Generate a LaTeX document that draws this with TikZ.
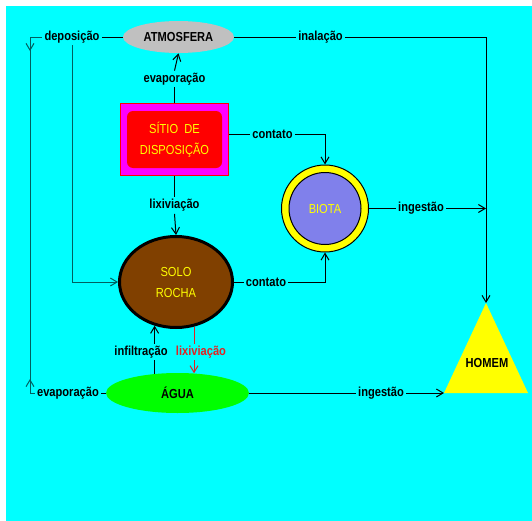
\documentclass[tikz,border=0pt]{standalone}
\usepackage{fontspec}
\setmainfont[FakeStretch=0.85]{Liberation Sans}
\usetikzlibrary{arrows.meta,shapes.geometric}
\definecolor{bgc}{RGB}{0,255,255}
\definecolor{atmgray}{RGB}{192,192,192}
\definecolor{sitmag}{RGB}{255,0,255}
\definecolor{sitred}{RGB}{255,0,0}
\definecolor{yel}{RGB}{255,255,0}
\definecolor{soilbrown}{RGB}{128,64,0}
\definecolor{biotablue}{RGB}{128,128,235}
\definecolor{aguagreen}{RGB}{0,255,0}
\definecolor{lixred}{RGB}{225,35,35}
\definecolor{leftline}{RGB}{0,96,96}
\pgfdeclarelayer{back}
\pgfdeclarelayer{lines}
\pgfsetlayers{back,lines,main}
\begin{document}
\begin{tikzpicture}[x=0.75pt,y=-0.75pt,
  txt/.style={font=\fontsize{9.8}{15.75}\selectfont},
  btxt/.style={font=\fontsize{9.8}{15.75}\selectfont\bfseries},
  lbl/.style={font=\fontsize{9.8}{12}\selectfont\bfseries, inner sep=1.5pt},
  conn/.style={line width=0.75pt},
  arr/.style={conn,-{Straight Barb[length=5pt,width=6pt]}},
]
\useasboundingbox (0,0) rectangle (532,521);
\begin{pgfonlayer}{back}
\fill[bgc] (6,6) rectangle (532,521);
\end{pgfonlayer}

% main nodes
\node[ellipse, fill=atmgray, minimum width=83.25pt, minimum height=24pt, inner sep=0pt, btxt] (atm) at (178.5,37) {ATMOSFERA};
\node[rectangle, fill=sitmag, draw=sitred, line width=0.75pt, minimum width=81pt, minimum height=54pt, inner sep=0pt] (sitio) at (174.5,139.5) {};
\node[rectangle, rounded corners=4.5pt, fill=sitred, minimum width=71.25pt, minimum height=42.75pt, inner sep=0pt, text=yel, align=center, txt] (sitioin) at (174.5,139.5) {SÍTIO\ \ DE\\DISPOSIÇÃO};
\node[ellipse, fill=soilbrown, draw=black, line width=2.25pt, minimum width=84.75pt, minimum height=68.25pt, inner sep=0pt, text=yel, align=center, txt] (solo) at (176,282) {SOLO\\ROCHA};
\node[circle, fill=yel, draw=black, line width=0.75pt, minimum size=65.25pt, inner sep=0pt] (biota) at (325,208.5) {};
\node[circle, fill=biotablue, draw=black, line width=0.75pt, minimum size=54pt, inner sep=0pt, text=yel, txt] (biotain) at (325,208.5) {BIOTA};
\node[ellipse, fill=aguagreen, minimum width=107.25pt, minimum height=30pt, inner sep=0pt, btxt] (agua) at (177.5,393) {ÁGUA};
\coordinate (homtop) at (486,303);
\coordinate (homleft) at (444,393);
\coordinate (homright) at (528,393);
\fill[yel] (homtop) -- (homleft) -- (homright) -- cycle;
\node[btxt] (homem) at (487,363) {HOMEM};

% labels
\node[lbl] (dep) at (72,37) {deposição};
\node[lbl] (inal) at (320.5,37) {inalação};
\node[lbl] (evap1) at (174.5,79) {evaporação};
\node[lbl] (cont1) at (272.5,134.5) {contato};
\node[lbl] (lix1) at (174.5,205.5) {lixiviação};
\node[lbl] (cont2) at (266,282) {contato};
\node[lbl] (ing1) at (421,208.5) {ingestão};
\node[lbl] (evap2) at (68,393) {evaporação};
\node[lbl] (ing2) at (381,393) {ingestão};
\node[lbl, fill=bgc] (infil) at (141,352) {infiltração};
\node[lbl, fill=bgc, text=lixred] (lix2) at (201,352) {lixiviação};

\coordinate (ltop) at (30,37);
\coordinate (lbot) at (30,393);

\begin{pgfonlayer}{lines}
\draw[conn] (atm.west) -- (dep.east);
\draw[conn, leftline] (evap2.west) -- (lbot) -- (ltop) -- (dep.west);
\draw[arr, leftline] (ltop) -- ++(0,14);
\draw[arr, leftline] (lbot) -- ++(0,-14);
\draw[arr, leftline] (dep.south) |- (solo.west);
\draw[conn] (atm.east) -- (inal.west);
\draw[arr] (inal.east) -| (homtop);
\draw[conn] (sitio.north) -- (evap1.south);
\draw[arr] (evap1.north) -- (atm.south);
\draw[conn] (cont1.west -| sitio.east) -- (cont1.west);
\draw[arr] (cont1.east) -| (biota.north);
\draw[conn] (sitio.south) -- (lix1.north);
\draw[arr] (lix1.south) -- (solo.north);
\draw[conn] (solo.east) -- (cont2.west);
\draw[arr] (cont2.east) -| (biota.south);
\draw[conn] (biota.east) -- (ing1.west);
\draw[arr] (ing1.east) -- (ing1.east -| homtop);
\draw[conn] (agua.west) -- (evap2.east);
\draw[conn] (agua.east) -- (ing2.west);
\draw[arr] (ing2.east) -- (homleft);
\draw[arr] (agua.140) -- (agua.140 |- solo.244);
\draw[arr, lixred] (solo.292) -- (solo.292 |- agua.50);
\end{pgfonlayer}
\end{tikzpicture}
\end{document}
